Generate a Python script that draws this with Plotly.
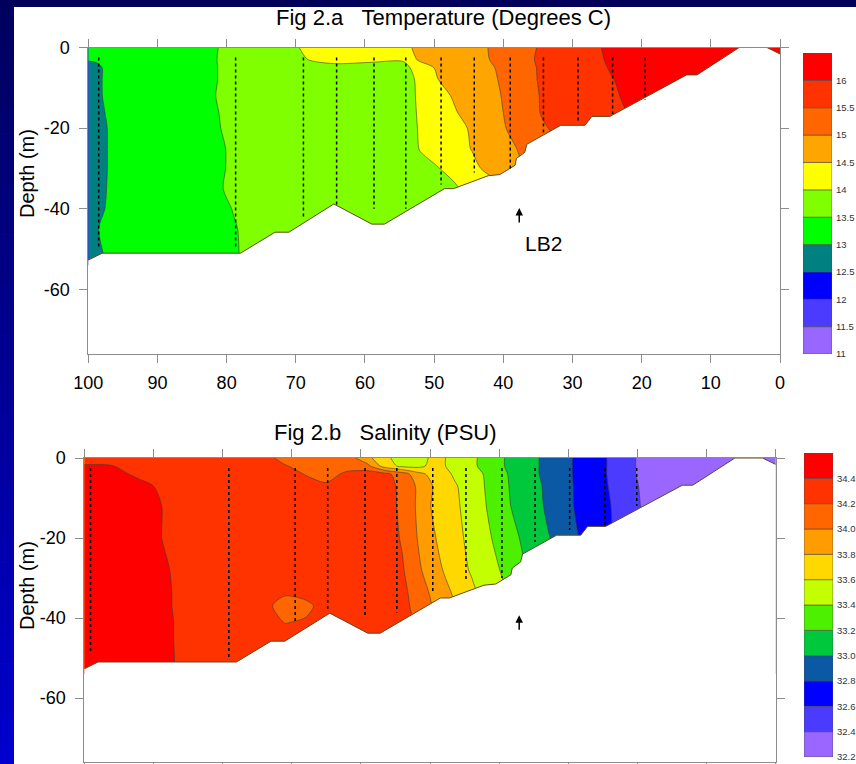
import numpy as np
import plotly.graph_objects as go

FONT = "Liberation Sans, Arial, sans-serif"
W, H = 856, 764

# ---------------- axis ticks ----------------
distance_ticks = [100, 90, 80, 70, 60, 50, 40, 30, 20, 10, 0]
depth_ticks = [0, -20, -40, -60]

# ---------------- temperature section (Fig 2.a) ----------------
temp_dist = [100, 98.8, 97, 90, 82, 79, 74, 69, 64.5, 59, 54.5, 52, 49.5, 44.5, 39.5, 34.5, 29.5, 24.5, 19.8, 10, 0]
temp_depth = [0, -3, -5, -8, -12, -16, -20, -25, -30, -35, -40, -45, -54]
temp_grid = [
    [13.20, 13.20, 13.25, 13.30, 13.45, 13.64, 13.82, 14.02, 14.20, 14.25, 14.40, 14.60, 14.70, 14.90, 15.12, 15.56, 15.75, 16.09, 16.20, 16.25, 16.30],
    [13.03, 13.05, 13.20, 13.30, 13.47, 13.62, 13.82, 13.98, 14.10, 14.05, 14.03, 14.62, 14.72, 14.90, 15.10, 15.60, 15.78, 16.05, 16.20, 16.25, 16.30],
    [12.85, 12.92, 13.10, 13.30, 13.47, 13.60, 13.75, 13.88, 13.90, 13.90, 13.90, 14.15, 14.60, 14.85, 15.08, 15.57, 15.80, 16.02, 16.20, 16.25, 16.30],
    [12.80, 12.92, 13.10, 13.30, 13.47, 13.60, 13.72, 13.80, 13.85, 13.87, 13.90, 14.05, 14.49, 14.80, 15.07, 15.56, 15.80, 15.98, 16.15, 16.25, 16.30],
    [12.80, 12.93, 13.08, 13.30, 13.48, 13.62, 13.72, 13.80, 13.85, 13.87, 13.90, 14.04, 14.35, 14.75, 15.05, 15.53, 15.80, 15.96, 16.10, 16.20, 16.30],
    [12.80, 12.90, 13.05, 13.30, 13.46, 13.60, 13.72, 13.80, 13.85, 13.87, 13.90, 14.03, 14.30, 14.65, 15.04, 15.52, 15.75, 15.95, 16.05, 16.20, 16.30],
    [12.80, 12.88, 13.02, 13.30, 13.45, 13.58, 13.72, 13.80, 13.85, 13.87, 13.90, 14.02, 14.20, 14.55, 15.01, 15.45, 15.70, 15.90, 16.01, 16.20, 16.30],
    [12.80, 12.87, 13.02, 13.30, 13.42, 13.55, 13.72, 13.80, 13.85, 13.87, 13.90, 14.01, 14.15, 14.52, 14.88, 15.30, 15.60, 15.85, 16.01, 16.20, 16.30],
    [12.80, 12.87, 13.02, 13.30, 13.42, 13.55, 13.72, 13.80, 13.85, 13.87, 13.90, 13.95, 13.98, 14.40, 14.80, 15.20, 15.51, 15.80, 16.01, 16.20, 16.30],
    [12.80, 12.88, 13.03, 13.30, 13.44, 13.56, 13.72, 13.80, 13.85, 13.87, 13.90, 13.90, 13.92, 14.05, 14.51, 15.01, 15.40, 15.70, 16.01, 16.20, 16.30],
    [12.80, 12.90, 13.05, 13.30, 13.40, 13.51, 13.70, 13.80, 13.85, 13.87, 13.90, 13.90, 13.92, 14.05, 14.51, 15.01, 15.40, 15.70, 16.01, 16.20, 16.30],
    [12.80, 12.98, 13.10, 13.30, 13.40, 13.48, 13.65, 13.80, 13.85, 13.87, 13.90, 13.90, 13.92, 14.05, 14.51, 15.01, 15.40, 15.70, 16.01, 16.20, 16.30],
    [12.80, 12.88, 13.03, 13.30, 13.40, 13.47, 13.65, 13.80, 13.85, 13.87, 13.90, 13.90, 13.92, 14.05, 14.51, 15.01, 15.40, 15.70, 16.01, 16.20, 16.30],
]
temp_levels = [11.0, 11.5, 12.0, 12.5, 13.0, 13.5, 14.0, 14.5, 15.0, 15.5, 16.0]
temp_step = 0.5
temp_labels = ["11", "11.5", "12", "12.5", "13", "13.5", "14", "14.5", "15", "15.5", "16"]
temp_colors = ["#9966FF", "#4B3BFF", "#0000FF", "#008080", "#00FF00", "#80FF00",
               "#FFFF00", "#FFA500", "#FF6600", "#FF3300", "#FF0000"]
temp_station_dist = [98.5, 78.7, 68.9, 64.1, 58.7, 54.1, 49.0, 44.2, 39.0, 34.2, 29.2, 24.2, 19.5]
temp_station_bottom = [-49.5, -50, -42.5, -39, -40, -40, -34, -31, -30.4, -21.5, -18.5, -16.5, -13]

# ---------------- salinity section (Fig 2.b) ----------------
sal_dist = [100, 96, 92, 88, 84, 78, 74, 71, 68, 65, 62, 59, 56.5, 54, 51.5, 49, 46.5, 44, 41.5, 39, 36.5, 34, 31.5, 29, 26.5, 24, 21.5, 19, 10, 0]
sal_depth = [0, -2, -4, -7, -12, -20, -28, -34, -37, -41, -45, -54]
sal_grid = [
    [34.30, 34.30, 34.30, 34.30, 34.30, 34.30, 34.30, 34.10, 34.10, 34.10, 34.10, 33.85, 33.65, 33.50, 33.50, 33.70, 33.50, 33.45, 33.30, 33.19, 33.10, 32.99, 32.90, 32.78, 32.70, 32.58, 32.45, 32.35, 32.30, 32.30],
    [34.42, 34.41, 34.30, 34.30, 34.30, 34.30, 34.30, 34.22, 34.10, 34.10, 34.10, 34.05, 33.70, 33.55, 33.55, 33.70, 33.50, 33.45, 33.30, 33.19, 33.10, 32.99, 32.90, 32.78, 32.70, 32.58, 32.45, 32.35, 32.30, 32.30],
    [34.50, 34.46, 34.36, 34.30, 34.30, 34.30, 34.30, 34.28, 34.19, 34.10, 34.25, 34.30, 34.25, 34.10, 33.85, 33.70, 33.58, 33.50, 33.35, 33.21, 33.10, 32.99, 32.90, 32.78, 32.70, 32.58, 32.45, 32.35, 32.30, 32.30],
    [34.50, 34.50, 34.45, 34.35, 34.30, 34.30, 34.30, 34.30, 34.28, 34.24, 34.30, 34.30, 34.28, 34.15, 33.95, 33.75, 33.62, 33.52, 33.36, 33.22, 33.10, 33.01, 32.88, 32.79, 32.70, 32.59, 32.46, 32.37, 32.30, 32.30],
    [34.50, 34.50, 34.48, 34.38, 34.30, 34.30, 34.30, 34.30, 34.30, 34.30, 34.30, 34.30, 34.30, 34.15, 33.95, 33.72, 33.64, 33.52, 33.38, 33.23, 33.12, 33.02, 32.90, 32.79, 32.70, 32.61, 32.47, 32.38, 32.30, 32.30],
    [34.50, 34.50, 34.48, 34.38, 34.30, 34.30, 34.30, 34.30, 34.30, 34.30, 34.30, 34.30, 34.30, 34.18, 33.97, 33.79, 33.66, 33.55, 33.42, 33.30, 33.17, 33.06, 32.95, 32.82, 32.72, 32.62, 32.50, 32.41, 32.30, 32.30],
    [34.50, 34.50, 34.48, 34.41, 34.30, 34.30, 34.30, 34.30, 34.30, 34.30, 34.30, 34.30, 34.30, 34.22, 34.02, 33.85, 33.70, 33.58, 33.47, 33.36, 33.22, 33.10, 33.01, 32.88, 32.76, 32.64, 32.52, 32.42, 32.30, 32.30],
    [34.50, 34.50, 34.48, 34.42, 34.30, 34.30, 34.30, 34.22, 34.25, 34.30, 34.30, 34.30, 34.30, 34.25, 34.10, 33.92, 33.78, 33.65, 33.50, 33.41, 33.30, 33.21, 33.10, 33.01, 32.90, 32.81, 32.65, 32.50, 32.35, 32.30],
    [34.50, 34.50, 34.48, 34.42, 34.30, 34.30, 34.27, 34.10, 34.15, 34.28, 34.30, 34.30, 34.30, 34.26, 34.12, 33.95, 33.81, 33.68, 33.55, 33.45, 33.35, 33.25, 33.15, 33.05, 32.95, 32.85, 32.70, 32.55, 32.41, 32.30],
    [34.50, 34.50, 34.48, 34.43, 34.30, 34.30, 34.30, 34.19, 34.22, 34.30, 34.30, 34.30, 34.30, 34.28, 34.15, 33.97, 33.83, 33.70, 33.57, 33.47, 33.37, 33.27, 33.17, 33.07, 32.97, 32.87, 32.72, 32.57, 32.41, 32.30],
    [34.50, 34.50, 34.48, 34.43, 34.30, 34.30, 34.30, 34.30, 34.30, 34.30, 34.30, 34.30, 34.30, 34.28, 34.15, 33.97, 33.83, 33.70, 33.57, 33.47, 33.37, 33.27, 33.17, 33.07, 32.97, 32.87, 32.72, 32.57, 32.41, 32.30],
    [34.50, 34.50, 34.48, 34.44, 34.30, 34.30, 34.30, 34.30, 34.30, 34.30, 34.30, 34.30, 34.30, 34.28, 34.15, 33.97, 33.83, 33.70, 33.57, 33.47, 33.37, 33.27, 33.17, 33.07, 32.97, 32.87, 32.72, 32.57, 32.41, 32.30],
]
sal_levels = [32.2, 32.4, 32.6, 32.8, 33.0, 33.2, 33.4, 33.6, 33.8, 34.0, 34.2, 34.4]
sal_step = 0.2
sal_labels = ["32.2", "32.4", "32.6", "32.8", "33.0", "33.2", "33.4", "33.6", "33.8", "34.0", "34.2", "34.4"]
sal_colors = ["#9966FF", "#4B3BFF", "#0000FF", "#0B58A4", "#00C83C", "#4CF000",
              "#C3FF00", "#FFD800", "#FF9C00", "#FF6600", "#FF3300", "#FF0000"]
sal_station_dist = [99.1, 79.1, 69.5, 64.8, 59.4, 54.8, 49.6, 44.8, 39.6, 34.8, 29.8, 24.7, 20.1]
sal_station_bottom = [-49, -50, -41, -38, -40, -38.6, -33.7, -31, -30, -21, -18, -17, -12]

station_top = -2.5

# ---------------- sea floor along the section ----------------
bottom_dist = [100, 98, 78, 73, 71, 64.5, 59, 57.2, 48.5, 47.2, 42.2, 40.5, 38.3, 38.1, 36.9,
               36.6, 31.7, 28.2, 27.2, 24.6, 13.5, 12, 5.9, 1.9, 0]
bottom_depth = [-52.7, -51, -51, -45.8, -45.8, -38.8, -43.8, -43.8, -35, -35, -31.8, -31.5, -29.2,
                -27.5, -26, -24, -19.3, -19.3, -17.1, -17.1, -6.8, -6.8, 0, 0, -1.6]

# ---------------- layout geometry (pixels) ----------------
def px_x(a, b):
    return [a / W, b / W]

def px_y(top, bot):
    return [1 - bot / H, 1 - top / H]

DOM = {
    "t_main": (px_x(88.3, 780), px_y(47.5, 354)),
    "t_bar": (px_x(803, 832), px_y(53, 354)),
    "s_main": (px_x(84.3, 775.7), px_y(458, 762)),
    "s_bar": (px_x(804, 833), px_y(453, 757)),
}


def stepped_scale(colors):
    n = len(colors) + 1
    cs = []
    for i in range(n):
        c = colors[max(i - 1, 0)]
        cs.append([i / n, c])
        cs.append([(i + 1) / n, c])
    return cs


def section_traces(xa, ya, dist, depth, grid, levels, step, colors,
                   st_dist, st_bottom):
    d = np.array(dist, dtype=float)[::-1]
    z = np.array(grid, dtype=float)[::-1, ::-1]
    y = np.array(depth, dtype=float)[::-1]
    traces = []
    traces.append(go.Contour(
        x=d, y=y, z=z, xaxis=xa, yaxis=ya,
        autocontour=False,
        contours=dict(start=levels[0], end=levels[-1] + step, size=step,
                      coloring="fill", showlines=True),
        colorscale=stepped_scale(colors), showscale=False,
        line=dict(color="#3c3c3c", width=0.6, smoothing=0.8),
        hoverinfo="skip",
    ))
    # white mask below the sea floor
    mx = [101] + bottom_dist + [-1, -1, 101]
    my = [bottom_depth[0]] + bottom_depth + [bottom_depth[-1], -80, -80]
    traces.append(go.Scatter(x=mx, y=my, xaxis=xa, yaxis=ya, mode="lines",
                             fill="toself", fillcolor="white",
                             line=dict(width=0, color="white"), hoverinfo="skip"))
    traces.append(go.Scatter(x=bottom_dist, y=bottom_depth, xaxis=xa, yaxis=ya,
                             mode="lines", line=dict(color="#5e4c22", width=1),
                             hoverinfo="skip"))
    sx, sy = [], []
    for s, b in zip(st_dist, st_bottom):
        sx += [s, s, None]
        sy += [station_top, b, None]
    traces.append(go.Scatter(x=sx, y=sy, xaxis=xa, yaxis=ya, mode="lines",
                             line=dict(color="black", width=1.5, dash="dot"),
                             hoverinfo="skip"))
    return traces


def bar_trace(xa, ya, levels, step, colors):
    return go.Bar(x=[0] * len(levels), y=[step] * len(levels), base=levels,
                  width=1, xaxis=xa, yaxis=ya,
                  marker=dict(color=colors, line=dict(color="#4a4a4a", width=0.6)),
                  hoverinfo="skip")


fig = go.Figure()
for t in section_traces("x", "y", temp_dist, temp_depth, temp_grid, temp_levels,
                        temp_step, temp_colors, temp_station_dist, temp_station_bottom):
    fig.add_trace(t)
fig.add_trace(bar_trace("x2", "y2", temp_levels, temp_step, temp_colors))
for t in section_traces("x3", "y3", sal_dist, sal_depth, sal_grid, sal_levels,
                        sal_step, sal_colors, sal_station_dist, sal_station_bottom):
    fig.add_trace(t)
fig.add_trace(bar_trace("x4", "y4", sal_levels, sal_step, sal_colors))

axis_common = dict(showgrid=False, zeroline=False, showline=True, linecolor="#8c8c8c",
                   linewidth=1, ticks="outside", ticklen=8, tickcolor="#8c8c8c",
                   tickwidth=1, mirror="ticks", automargin=False,
                   tickfont=dict(family=FONT, size=18, color="black"))

main_x = dict(axis_common, range=[100, 0], tickmode="array", tickvals=distance_ticks,
              ticktext=[str(v) for v in distance_ticks], ticklabelstandoff=4)
main_y = dict(axis_common, range=[-76, 0], tickmode="array", tickvals=depth_ticks,
              ticktext=[str(v) for v in depth_ticks], ticklabelstandoff=6)


def bar_x(domain, anchor):
    return dict(domain=domain, range=[-0.5, 0.5], visible=False, fixedrange=True,
                automargin=False, anchor=anchor)


def bar_y(domain, levels, step, labels, anchor):
    return dict(domain=domain, range=[levels[0], levels[-1] + step], side="right",
                anchor=anchor, tickmode="array", tickvals=levels, ticktext=labels,
                showgrid=False, zeroline=False, showline=False, ticks="",
                ticklabelstandoff=3, automargin=False,
                tickfont=dict(family=FONT, size=9.5, color="#333333"))


# background: dark band on top, blue strip on the left
shapes = [dict(type="rect", xref="paper", yref="paper", x0=0, x1=1, y0=1 - 7 / H, y1=1,
               fillcolor="#00005a", line=dict(width=0), layer="below")]
nstrip = 30
for i in range(nstrip):
    f = i / (nstrip - 1)
    r_b = int(round(0x60 + (0xcc - 0x60) * f))
    shapes.append(dict(type="rect", xref="paper", yref="paper", x0=0, x1=14 / W,
                       y0=1 - (7 + (H - 7) * (i + 1) / nstrip) / H - 0.001,
                       y1=1 - (7 + (H - 7) * i / nstrip) / H,
                       fillcolor="#0000%02x" % r_b, line=dict(width=0), layer="below"))

annotations = [
    dict(text="Fig 2.a\u00a0\u00a0\u00a0Temperature (Degrees C)", xref="paper", yref="paper",
         x=443 / W, y=1 - 18 / H, showarrow=False, xanchor="center", yanchor="middle",
         font=dict(family=FONT, size=22, color="black")),
    dict(text="Fig 2.b\u00a0\u00a0\u00a0Salinity (PSU)", xref="paper", yref="paper",
         x=385 / W, y=1 - 432 / H, showarrow=False, xanchor="center", yanchor="middle",
         font=dict(family=FONT, size=22, color="black")),
    dict(text="Depth (m)", xref="paper", yref="paper", x=27 / W, y=1 - 173 / H,
         textangle=-90, showarrow=False, xanchor="center", yanchor="middle",
         font=dict(family=FONT, size=20, color="black")),
    dict(text="Depth (m)", xref="paper", yref="paper", x=27 / W, y=1 - 585 / H,
         textangle=-90, showarrow=False, xanchor="center", yanchor="middle",
         font=dict(family=FONT, size=20, color="black")),
    dict(text="", xref="x", yref="y", x=37.7, y=-39.8, ax=0, ay=16, showarrow=True,
         arrowhead=2, arrowsize=1, arrowwidth=1.5, arrowcolor="black"),
    dict(text="LB2", xref="x", yref="y", x=34.2, y=-48.5, showarrow=False,
         xanchor="center", yanchor="middle", font=dict(family=FONT, size=21, color="black")),
    dict(text="", xref="x3", yref="y3", x=37.1, y=-39.3, ax=0, ay=16, showarrow=True,
         arrowhead=2, arrowsize=1, arrowwidth=1.5, arrowcolor="black"),
]

fig.update_layout(
    width=W, height=H, margin=dict(l=0, r=0, t=0, b=0, autoexpand=False),
    paper_bgcolor="white", plot_bgcolor="white", showlegend=False,
    barmode="overlay", font=dict(family=FONT, color="black"),
    xaxis=dict(main_x, domain=DOM["t_main"][0], anchor="y"),
    yaxis=dict(main_y, domain=DOM["t_main"][1], anchor="x"),
    xaxis2=bar_x(DOM["t_bar"][0], "y2"),
    yaxis2=bar_y(DOM["t_bar"][1], temp_levels, temp_step, temp_labels, "x2"),
    xaxis3=dict(main_x, domain=DOM["s_main"][0], anchor="y3", showticklabels=False),
    yaxis3=dict(main_y, domain=DOM["s_main"][1], anchor="x3"),
    xaxis4=bar_x(DOM["s_bar"][0], "y4"),
    yaxis4=bar_y(DOM["s_bar"][1], sal_levels, sal_step, sal_labels, "x4"),
    shapes=shapes, annotations=annotations,
)

fig.write_html("out.html", config={"displayModeBar": False},
               post_script="document.body.style.margin='0';document.body.style.overflow='hidden';")
